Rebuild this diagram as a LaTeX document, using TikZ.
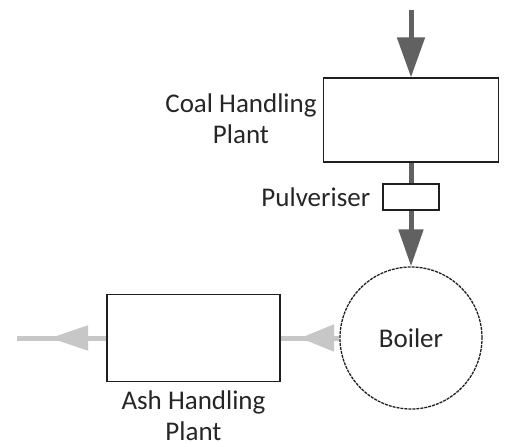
\documentclass[tikz,border=0pt]{standalone}
\usepackage{fontspec}
\setmainfont{Carlito}
\usetikzlibrary{arrows.meta,calc}

\begin{document}
\begin{tikzpicture}[x=1pt,y=-1pt,line join=miter,
  box/.style={draw=black!88,line width=1.3pt,inner sep=0pt},
  txt/.style={text=black!85,font=\fontsize{27}{31}\selectfont,align=center,inner sep=0pt},
  darkflow/.style={draw=black!62,line width=5pt},
  lightflow/.style={draw=black!22,line width=5pt}]
  \useasboundingbox (0,0) rectangle (531,447);

  % units
  \node[box,minimum width=175pt,minimum height=84pt] (coal) at (411,120) {};
  \node[box,minimum width=56pt,minimum height=26pt] (pulv) at (411,197) {};
  \node[box,circle,minimum size=142pt,dash pattern=on 3pt off 1pt,txt] (boiler) at (411,338) {Boiler};
  \node[box,minimum width=173pt,minimum height=87pt] (ash) at (193.5,338) {};

  % captions
  \node[txt,anchor=east] (coallbl) at ($(coal.west)+(-6,-1)$) {Coal Handling\\Plant};
  \node[txt,anchor=east] (pulvlbl) at ($(pulv.west)+(-12,0)$) {Pulveriser};
  \node[txt,anchor=north] (ashlbl) at ($(ash.south)+(0,8)$) {Ash Handling\\Plant};

  \coordinate (feed) at (411,10);
  \coordinate (ashtip) at (300,338);
  \coordinate (outtip) at (50,338);
  \coordinate (out) at (17,338);

  % coal path
  \draw[darkflow,-{Triangle[length=40pt,width=27pt]}] (feed) -- (coal.north);
  \draw[darkflow] (coal.south) -- (pulv.north);
  \draw[darkflow,-{Triangle[length=37pt,width=24pt]}] (pulv.south) -- (boiler.north);

  % ash path
  \draw[lightflow] (boiler.west) -- (ash.east);
  \draw[lightflow,-{Triangle[length=34pt,width=26pt]}] (boiler.west) -- (ashtip);
  \draw[lightflow] (ash.west) -- (out);
  \draw[lightflow,-{Triangle[length=38pt,width=24pt]}] (ash.west) -- (outtip);
\end{tikzpicture}
\end{document}
